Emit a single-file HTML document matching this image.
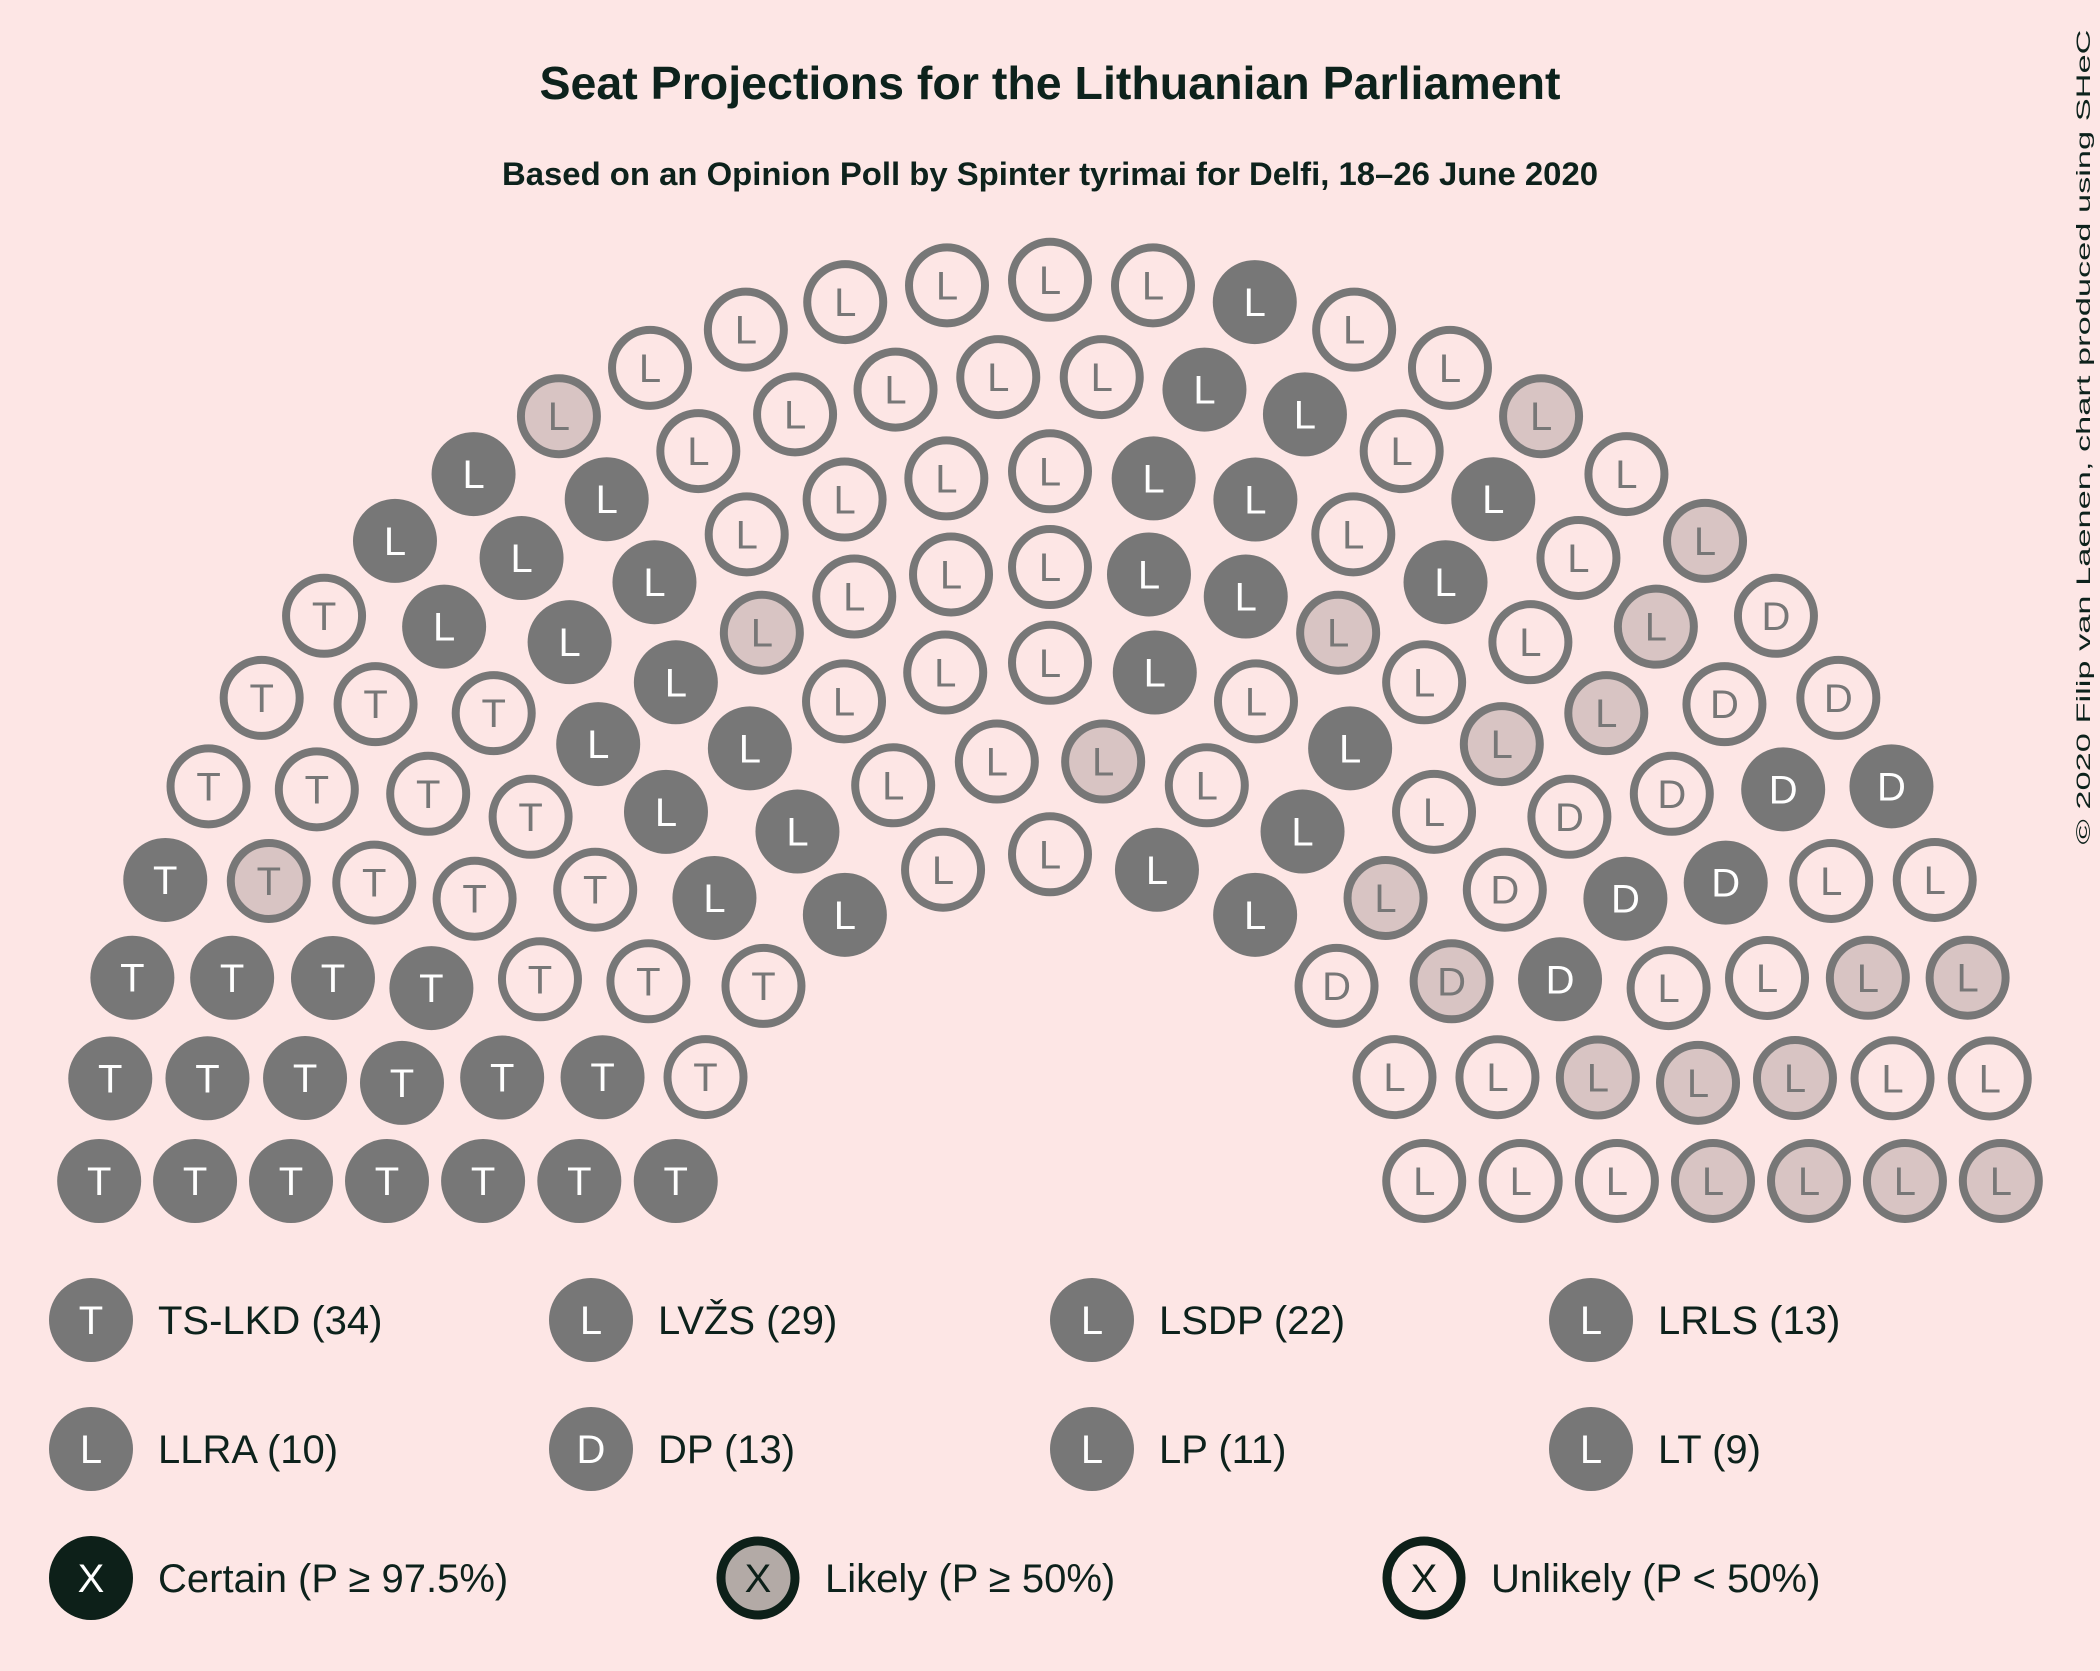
<!DOCTYPE html>
<html><head><meta charset="utf-8">
<style>
html,body{margin:0;padding:0;background:#fde6e5;}
svg{display:block;font-family:"Liberation Sans",sans-serif;}
</style></head>
<body>
<svg id="chart" width="2100" height="1671" viewBox="0 0 2100 1671" xmlns="http://www.w3.org/2000/svg">
<rect width="2100" height="1671" fill="#fde6e5"/>
<text x="1050" y="99" text-anchor="middle" font-size="46" font-weight="bold" fill="#0d221c" textLength="1021" lengthAdjust="spacingAndGlyphs">Seat Projections for the Lithuanian Parliament</text>
<text x="1050" y="185" text-anchor="middle" font-size="32" font-weight="bold" fill="#0d221c" textLength="1096" lengthAdjust="spacingAndGlyphs">Based on an Opinion Poll by Spinter tyrimai for Delfi, 18–26 June 2020</text>
<text transform="translate(2090,437) rotate(-90)" text-anchor="middle" font-size="19" fill="#0d221c" textLength="815" lengthAdjust="spacingAndGlyphs">© 2020 Filip van Laenen, chart produced using SHeC</text>
<g id="seats"></g>
<g id="legend"></g>
</svg>
<script>
const parties = ["TS-LKD","LVŽS","LSDP","LRLS","LLRA","DP","LP","LT"];
const letters = ["T","L","L","L","L","D","L","L"];
const seatTotals = [34,29,22,13,10,13,11,9];
const certainSeats = [18,14,9,5,0,5,0,0];
const likelySeats = [1,2,1,2,5,1,5,4];
const unlikelySeats = [15,13,12,6,5,7,6,5];
const certainFirst = [true,true,false,false,false,false,false,false];
const rowCounts = [11,14,17,21,23,26,29];

const NS = "http://www.w3.org/2000/svg";
const cx = 1050, cy = 1232, r0 = 377.7, rStep = 95.75, baseOffset = 51, seatR = 41;
const grey = "#777777", likelyFill = "#d8c4c3", bg = "#fde6e5";

function rowRadius(k){ return r0 + k*rStep; }
function seatPos(k, i){
  const r = rowRadius(k);
  const a0 = Math.asin(baseOffset/r);
  const n = rowCounts[k];
  const a = Math.PI - a0 - (Math.PI - 2*a0) * i/(n-1);
  return {a: Math.PI - a, x: cx + r*Math.cos(a), y: cy - r*Math.sin(a), k: k};
}
const seats = [];
for (let k=0;k<rowCounts.length;k++) for (let i=0;i<rowCounts[k];i++) seats.push(seatPos(k,i));
seats.sort((p,q)=> (p.a - q.a) || (p.k - q.k));

const g = document.getElementById("seats");
function drawSeat(x,y,letter,status,party){
  const c = document.createElementNS(NS,"circle");
  
  
  c.setAttribute("cx",x); c.setAttribute("cy",y);
  if (status==="C"){ c.setAttribute("r",seatR+1); c.setAttribute("fill",grey); }
  else { c.setAttribute("r",seatR-3); c.setAttribute("fill",status==="L"?likelyFill:bg); c.setAttribute("stroke",grey); c.setAttribute("stroke-width",8); }
  g.appendChild(c);
  const t = document.createElementNS(NS,"text");
  
  
  t.setAttribute("x",x); t.setAttribute("y",y+14);
  t.setAttribute("text-anchor","middle"); t.setAttribute("font-size","40");
  t.setAttribute("fill", status==="C" ? "#ffffff" : grey);
  t.textContent = letter;
  g.appendChild(t);
}
let idx = 0;
for (let p=0;p<parties.length;p++){
  let statuses = [];
  for (let j=0;j<certainSeats[p];j++) statuses.push("C");
  for (let j=0;j<likelySeats[p];j++) statuses.push("L");
  for (let j=0;j<unlikelySeats[p];j++) statuses.push("U");
  if (!certainFirst[p]) statuses.reverse();
  for (let j=0;j<statuses.length && idx<seats.length;j++){
    const s = seats[idx++];
    drawSeat(s.x,s.y,letters[p],statuses[j],parties[p]);
  }
}

const lg = document.getElementById("legend");
const legCols = [91,591,1092,1591], legRows = [1320,1449];
for (let p=0;p<parties.length;p++){
  const x = legCols[p%4], y = legRows[Math.floor(p/4)];
  const c = document.createElementNS(NS,"circle");
  
  
  c.setAttribute("cx",x); c.setAttribute("cy",y); c.setAttribute("r",42); c.setAttribute("fill",grey);
  lg.appendChild(c);
  const l = document.createElementNS(NS,"text");
  
  
  l.setAttribute("x",x); l.setAttribute("y",y+14); l.setAttribute("text-anchor","middle");
  l.setAttribute("font-size","40"); l.setAttribute("fill","#fff"); l.textContent = letters[p];
  lg.appendChild(l);
  const t = document.createElementNS(NS,"text");
  
  
  t.setAttribute("x",x+67); t.setAttribute("y",y+14); t.setAttribute("font-size","40"); t.setAttribute("fill","#0d221c");
  t.textContent = parties[p] + " (" + seatTotals[p] + ")";
  lg.appendChild(t);
}
const statusLabels = ["Certain (P ≥ 97.5%)","Likely (P ≥ 50%)","Unlikely (P < 50%)"];
const statusX = [91,758,1424], sy = 1578;
for (let s=0;s<3;s++){
  const x = statusX[s];
  const c = document.createElementNS(NS,"circle");
  
  
  c.setAttribute("cx",x); c.setAttribute("cy",sy);
  if (s===0){ c.setAttribute("r",42); c.setAttribute("fill","#0d2019"); }
  else { c.setAttribute("r",37); c.setAttribute("fill", s===1 ? "#b3aaa6" : bg); c.setAttribute("stroke","#0d2019"); c.setAttribute("stroke-width",9); }
  lg.appendChild(c);
  const l = document.createElementNS(NS,"text");
  
  
  l.setAttribute("x",x); l.setAttribute("y",sy+14); l.setAttribute("text-anchor","middle");
  l.setAttribute("font-size","40"); l.setAttribute("fill", s===0 ? "#fff" : "#0d2019"); l.textContent = "X";
  lg.appendChild(l);
  const t = document.createElementNS(NS,"text");
  
  
  t.setAttribute("x",x+67); t.setAttribute("y",sy+14); t.setAttribute("font-size","40"); t.setAttribute("fill","#0d221c");
  t.textContent = statusLabels[s];
  lg.appendChild(t);
}
</script>
</body></html>
